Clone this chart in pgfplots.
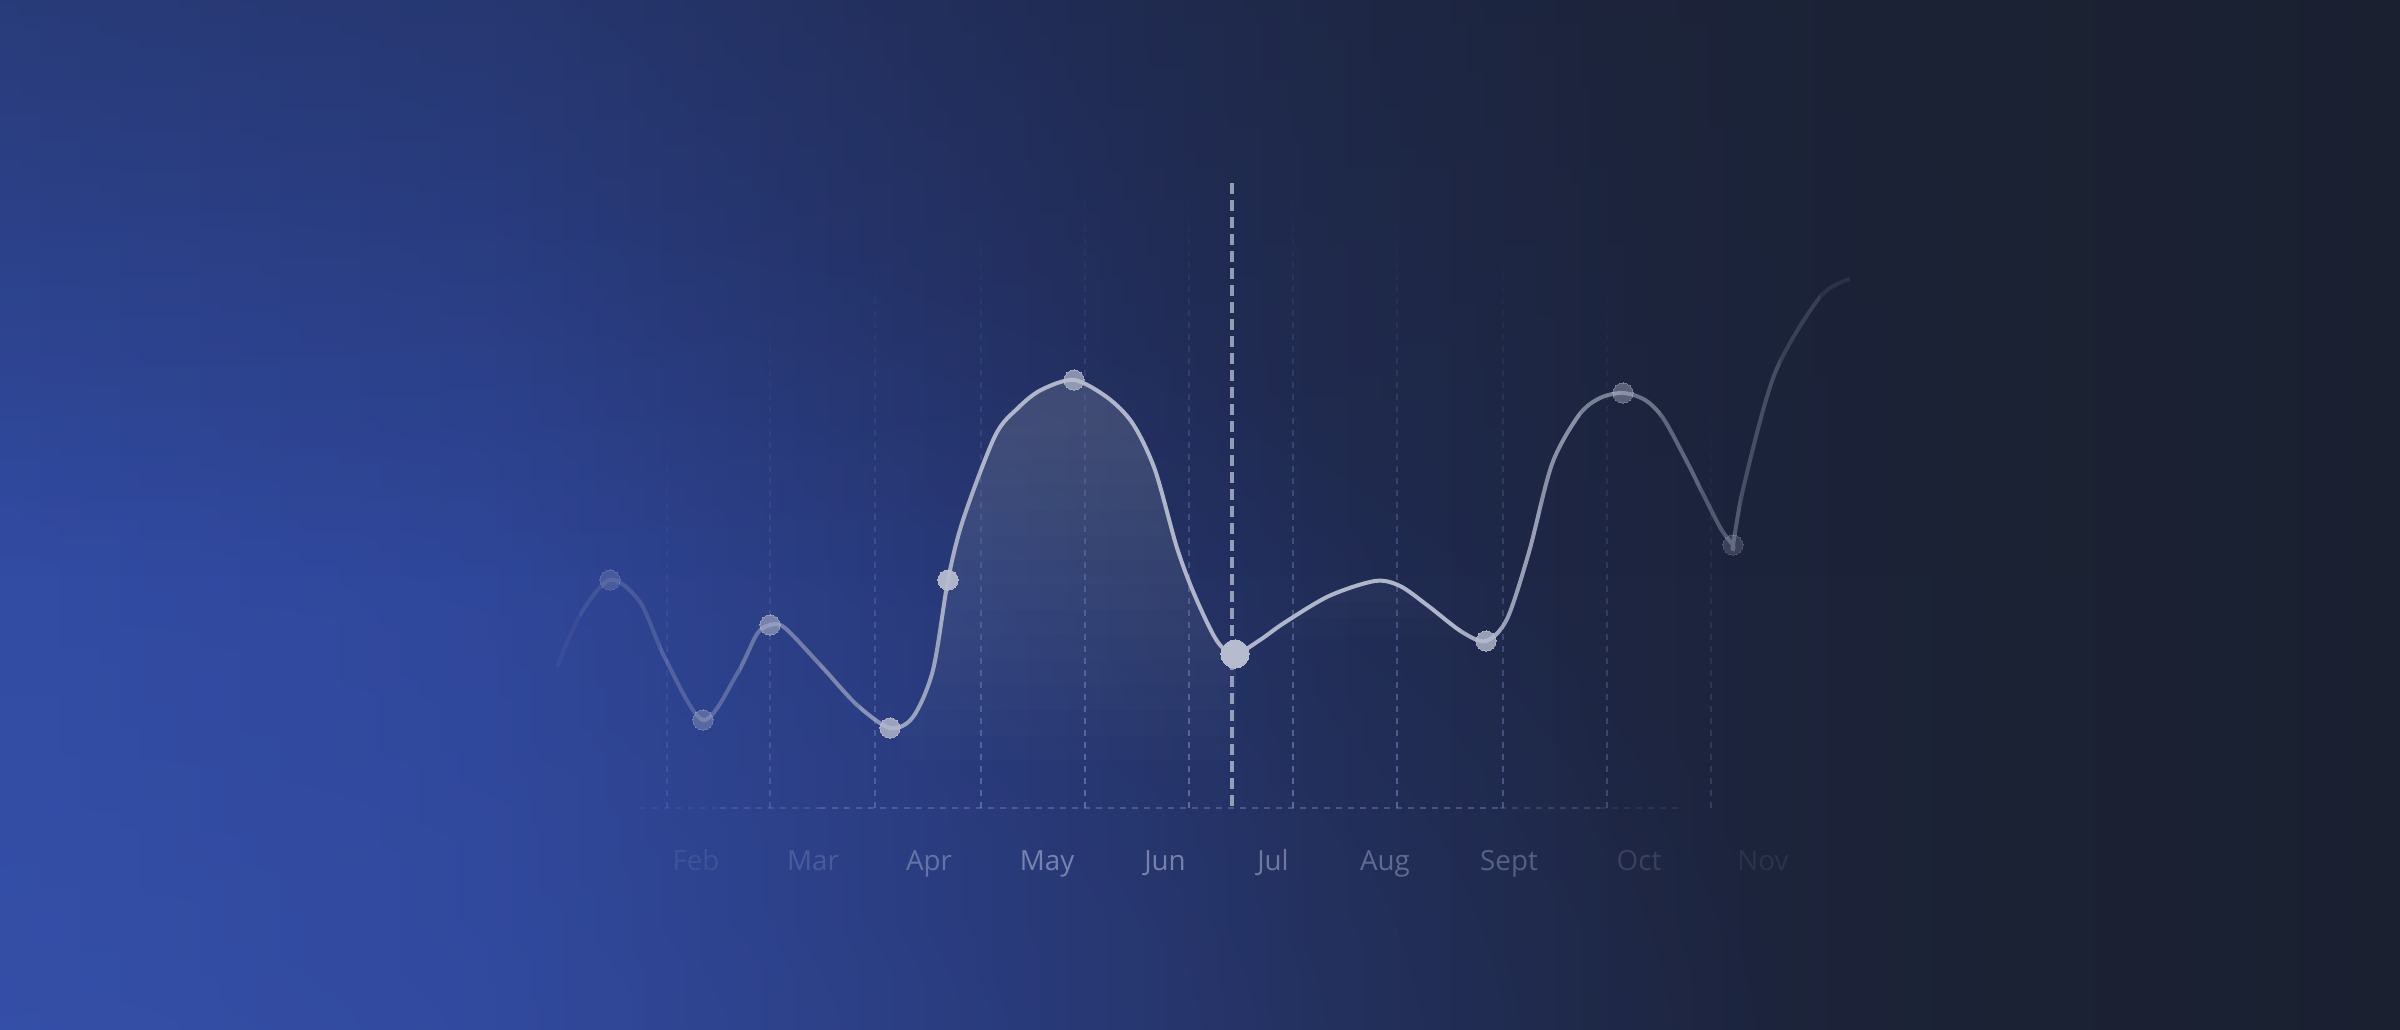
\documentclass[border=0pt]{standalone}
\usepackage{fontspec}
\setmainfont{Open Sans}
\usepackage{pgfplots}
\usepackage{pgfplotstable}
\pgfplotsset{compat=1.18}
\usetikzlibrary{fadings}

\definecolor{bg0}{HTML}{3049A0}
\definecolor{bg1}{HTML}{2D4394}
\definecolor{bg2}{HTML}{25336C}
\definecolor{bg3}{HTML}{202B52}
\definecolor{bg4}{HTML}{1D2540}
\definecolor{bg5}{HTML}{1B2234}
\definecolor{bg6}{HTML}{1A2030}
\definecolor{bgdark}{HTML}{1B2232}
\definecolor{glowc}{HTML}{3A56B0}
\definecolor{linec}{HTML}{B0B6C9}
\definecolor{markc}{HTML}{B6BBCD}
\definecolor{gridc}{HTML}{7282BC}
\definecolor{hlc}{HTML}{C8CDDC}
\definecolor{fillc}{HTML}{959DBD}
\definecolor{labc}{HTML}{B8BFDC}

\pgfdeclarehorizontalshading{bgshade}{100bp}{color(0bp)=(bg0); color(25bp)=(bg0); color(35bp)=(bg1); color(46bp)=(bg2); color(52.5bp)=(bg3); color(59bp)=(bg4); color(66.5bp)=(bg5); color(75bp)=(bg6); color(100bp)=(bg6)}

\tikzfading[name=fadetop, top color=transparent!0, bottom color=transparent!100]
\tikzfading[name=vup, bottom color=transparent!0, top color=transparent!100]
\tikzfading[name=radial, inner color=transparent!0, outer color=transparent!100]

\pgfplotstableread{
x y
557 363
580 415
610 450
640 428
665 372
703 310
737 356
757 396
770 405
785 402
823 362
857 325
890 302
913 313
933 360
948 450
963 510
995 594
1018 622
1041 640
1074 650
1108 632
1133 606
1155 560
1177 482
1195 434
1217 389
1235 376
1260 390
1284 407
1329 434
1375 449
1400 444
1427 425
1462 398
1486 389
1507 411
1529 478
1552 566
1579 615
1600 632
1623 637
1645 630
1663 612
1686 570
1705 532
1721 501
1733 485
1733 485
1744 545
1775 657
1820 733
1850 751
}\curvedata

\pgfplotsset{bandaxis/.style={at={(0,0)}, anchor=south west, scale only axis,
  hide axis, clip=true}}

% one vertical band of the line, drawn in its own clipped axis with the same scale
\newcommand{\band}[4]{%
\begin{scope}[shift={(#1,0)}]
\begin{axis}[bandaxis, width=#3, height=103mm, xmin=#1, xmax=#2, ymin=0, ymax=1030]
\addplot[linec, line width=0.4mm, smooth, opacity=#4] table {\curvedata};
\end{axis}
\end{scope}}

% one layer of the area under the line: x from #1 to #2 (width #3), above y=#4 (height #5)
\newcommand{\fillband}[6]{%
\begin{scope}[shift={(#1,#4)}]
\begin{axis}[bandaxis, width=#3, height=#5, xmin=#1, xmax=#2, ymin=#4, ymax=1030]
\addplot[draw=none, fill=fillc, fill opacity=#6, smooth] table {\curvedata} \closedcycle;
\end{axis}
\end{scope}}

\begin{document}
\begin{tikzpicture}[x=0.1mm,y=0.1mm]
% background
\shade[shading=bgshade] (0,0) rectangle (2400,1030);
\fill[glowc, opacity=0.5, path fading=radial] (60,-60) ellipse (1750 and 980);
\fill[bgdark, opacity=0.35, path fading=fadetop] (0,450) rectangle (2400,1030);

% vertical dashed grid lines
\tikzset{gl/.style={gridc, line width=0.2mm, dash pattern=on 0.6mm off 0.6mm, path fading=vup}}
\draw[gl, opacity=0.28] (667,222) -- (667,640) (1711,222) -- (1711,640);
\draw[gl, opacity=0.4] (770,222) -- (770,760) (1607,222) -- (1607,760);
\draw[gl, opacity=0.52] (875,222) -- (875,790) (1503,222) -- (1503,790);
\draw[gl, opacity=0.62] (981,222) -- (981,820) (1397,222) -- (1397,820);
\draw[gl, opacity=0.7] (1085,222) -- (1085,850) (1189,222) -- (1189,850) (1293,222) -- (1293,850);
% baseline
\tikzset{bl/.style={gridc, line width=0.2mm, dash pattern=on 0.6mm off 0.6mm}}
\draw[bl, opacity=0.15] (640,222) -- (720,222);
\draw[bl, opacity=0.3] (720,222) -- (820,222);
\draw[bl, opacity=0.45] (820,222) -- (1500,222);
\draw[bl, opacity=0.3] (1500,222) -- (1600,222);
\draw[bl, opacity=0.15] (1600,222) -- (1680,222);
% highlighted line
\draw[hlc, line width=0.35mm, dash pattern=on 1.1mm off 0.6mm, opacity=0.7] (1232,224) -- (1232,849);

% area under the May hump, in thin stacked layers so that it fades downwards
\fillband{900}{1236}{33.6mm}{270}{76mm}{0.022}
\fillband{900}{1236}{33.6mm}{295}{73.5mm}{0.022}
\fillband{900}{1236}{33.6mm}{320}{71mm}{0.022}
\fillband{900}{1236}{33.6mm}{345}{68.5mm}{0.022}
\fillband{900}{1236}{33.6mm}{370}{66mm}{0.022}
\fillband{900}{1236}{33.6mm}{395}{63.5mm}{0.022}
\fillband{900}{1236}{33.6mm}{420}{61mm}{0.022}
\fillband{900}{1236}{33.6mm}{445}{58.5mm}{0.022}
\fillband{900}{1236}{33.6mm}{470}{56mm}{0.022}
\fillband{900}{1236}{33.6mm}{495}{53.5mm}{0.022}
\fillband{900}{1236}{33.6mm}{520}{51mm}{0.022}
\fillband{900}{1236}{33.6mm}{545}{48.5mm}{0.022}
\fillband{900}{1236}{33.6mm}{570}{46mm}{0.022}
\fillband{900}{1236}{33.6mm}{595}{43.5mm}{0.022}
% faint area under the August hump
\fillband{1236}{1480}{24.4mm}{395}{63.5mm}{0.02}
\fillband{1236}{1480}{24.4mm}{412}{61.8mm}{0.02}
\fillband{1236}{1480}{24.4mm}{428}{60.2mm}{0.02}

% the line, fading out towards both ends
\band{540}{580}{4mm}{0.08}
\band{580}{620}{4mm}{0.15}
\band{620}{660}{4mm}{0.21}
\band{660}{700}{4mm}{0.28}
\band{700}{740}{4mm}{0.36}
\band{740}{780}{4mm}{0.46}
\band{780}{820}{4mm}{0.54}
\band{820}{860}{4mm}{0.62}
\band{860}{900}{4mm}{0.72}
\band{900}{940}{4mm}{0.84}
\band{940}{980}{4mm}{0.93}
\band{980}{1460}{48mm}{1}
\band{1460}{1500}{4mm}{0.92}
\band{1500}{1540}{4mm}{0.84}
\band{1540}{1580}{4mm}{0.74}
\band{1580}{1620}{4mm}{0.63}
\band{1620}{1660}{4mm}{0.54}
\band{1660}{1700}{4mm}{0.45}
\band{1700}{1740}{4mm}{0.37}
\band{1740}{1780}{4mm}{0.29}
\band{1780}{1820}{4mm}{0.2}
\band{1820}{1870}{5mm}{0.11}

% markers and month labels
\begin{axis}[at={(0,0)}, anchor=south west, scale only axis,
  width=240mm, height=103mm, xmin=0, xmax=2400, ymin=0, ymax=1030,
  hide axis, clip=false]
\tikzset{mk/.style={markc, only marks, mark=*, mark size=2.85pt, mark options={fill=markc, draw=markc, line width=0pt}}}
\addplot[mk, opacity=0.2] coordinates {(610,450) (1733,485)};
\addplot[mk, opacity=0.32] coordinates {(703,310)};
\addplot[mk, opacity=0.4] coordinates {(1623,637)};
\addplot[mk, opacity=0.55] coordinates {(770,405)};
\addplot[mk, opacity=0.7] coordinates {(1074,650)};
\addplot[mk, opacity=0.8] coordinates {(890,302) (1486,389)};
\addplot[mk, opacity=0.95] coordinates {(948,450)};
\addplot[mk, opacity=1, mark size=4pt] coordinates {(1235,376)};

\tikzset{lab/.style={labc, anchor=base, font=\fontsize{7.9}{9}\selectfont}}
\node[lab, opacity=0.12] at (axis cs:696,159) {Feb};
\node[lab, opacity=0.22] at (axis cs:813,159) {Mar};
\node[lab, opacity=0.42] at (axis cs:929,159) {Apr};
\node[lab, opacity=0.55] at (axis cs:1047,159) {May};
\node[lab, opacity=0.55] at (axis cs:1165,159) {Jun};
\node[lab, opacity=0.5] at (axis cs:1273,159) {Jul};
\node[lab, opacity=0.42] at (axis cs:1385,159) {Aug};
\node[lab, opacity=0.36] at (axis cs:1509,159) {Sept};
\node[lab, opacity=0.18] at (axis cs:1639,159) {Oct};
\node[lab, opacity=0.1] at (axis cs:1763,159) {Nov};
\end{axis}

\pgfresetboundingbox
\path[use as bounding box] (0,0) rectangle (2400,1030);
\end{tikzpicture}
\end{document}
